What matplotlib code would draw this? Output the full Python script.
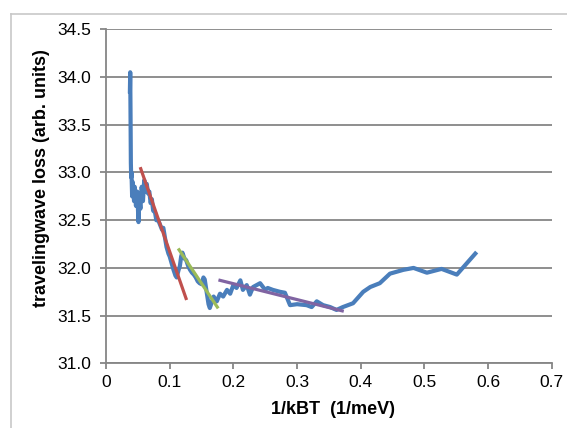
import numpy as np
import matplotlib as mpl
import matplotlib.pyplot as plt
from matplotlib.lines import Line2D

mpl.rcParams['font.family'] = ['Liberation Sans', 'DejaVu Sans']

# measured loss vs 1/kBT
inv_kbt = [0.0375, 0.038, 0.0385, 0.039, 0.0395, 0.040, 0.041, 0.042, 0.044, 0.045,
           0.047, 0.049, 0.051, 0.052, 0.054, 0.056, 0.058, 0.060, 0.062, 0.064,
           0.066, 0.068, 0.070, 0.072, 0.074, 0.077, 0.079, 0.082, 0.085, 0.088,
           0.090, 0.093, 0.095, 0.098, 0.100, 0.103, 0.106, 0.109, 0.111, 0.114,
           0.116, 0.118, 0.120, 0.123, 0.126, 0.129, 0.132, 0.135, 0.138, 0.141,
           0.144, 0.147, 0.150, 0.153, 0.155, 0.158, 0.161, 0.163, 0.169, 0.174,
           0.179, 0.184, 0.190, 0.195, 0.200, 0.205, 0.211, 0.215, 0.221, 0.226,
           0.231, 0.242, 0.250, 0.254, 0.262, 0.273, 0.281, 0.289, 0.300, 0.315,
           0.323, 0.331, 0.341, 0.352, 0.362, 0.372, 0.388, 0.404, 0.415, 0.430,
           0.446, 0.467, 0.483, 0.504, 0.527, 0.551, 0.580]
loss = [33.85, 34.05, 33.60, 33.10, 32.95, 33.00, 32.75, 32.90, 32.70, 32.85,
        32.65, 32.80, 32.48, 32.75, 32.62, 32.85, 32.70, 32.92, 32.80, 32.88,
        32.78, 32.80, 32.68, 32.72, 32.60, 32.58, 32.50, 32.50, 32.45, 32.40,
        32.42, 32.30, 32.22, 32.15, 32.12, 32.05, 31.98, 31.92, 31.90, 31.98,
        32.02, 32.12, 32.16, 32.10, 32.08, 32.02, 31.98, 31.95, 31.93, 31.90,
        31.86, 31.84, 31.83, 31.90, 31.88, 31.75, 31.62, 31.58, 31.70, 31.65,
        31.73, 31.70, 31.77, 31.73, 31.82, 31.79, 31.87, 31.77, 31.82, 31.72,
        31.80, 31.84, 31.77, 31.79, 31.77, 31.75, 31.74, 31.61, 31.62, 31.61,
        31.59, 31.65, 31.61, 31.59, 31.56, 31.59, 31.63, 31.75, 31.80, 31.84,
        31.94, 31.98, 32.00, 31.95, 31.99, 31.93, 32.15]

# linear fits over three ranges (end points)
fit_red_x = [0.0545, 0.1257]
fit_red_y = [33.04, 31.68]
fit_green_x = [0.1147, 0.1748]
fit_green_y = [32.19, 31.59]
fit_purple_x = [0.179, 0.371]
fit_purple_y = [31.87, 31.55]

fig = plt.figure(figsize=(5.67, 4.28), dpi=100)
ax = fig.add_axes([0.187, 0.151, 0.786, 0.7805])

grey = '#868686'
ax.plot(inv_kbt, loss, color='#4a7ebb', lw=3.0, solid_joinstyle='round', zorder=3)
ax.plot(fit_red_x, fit_red_y, color='#c0504d', lw=2.3, zorder=4)
ax.plot(fit_green_x, fit_green_y, color='#9bbb59', lw=2.3, zorder=4)
ax.plot(fit_purple_x, fit_purple_y, color='#8064a2', lw=2.3, zorder=4)

ax.set_xlim(0, 0.7)
ax.set_ylim(31.0, 34.5)
ax.set_xticks(np.arange(0, 0.71, 0.1))
ax.set_xticklabels(['0', '0.1', '0.2', '0.3', '0.4', '0.5', '0.6', '0.7'])
ax.set_yticks(np.arange(31.0, 34.51, 0.5))
ax.set_yticklabels(['%.1f' % v for v in np.arange(31.0, 34.51, 0.5)])

ax.grid(axis='y', color=grey, lw=1.3)
ax.set_axisbelow(True)
for s in ['top', 'right']:
    ax.spines[s].set_visible(False)
for s in ['left', 'bottom']:
    ax.spines[s].set_color(grey)
    ax.spines[s].set_linewidth(1.3)
ax.tick_params(colors=grey, labelcolor='black', labelsize=12.5, length=4.5, width=1.3)
ax.tick_params(axis='y', pad=6)
ax.tick_params(axis='x', pad=4)

ax.set_xlabel('1/kBT  (1/meV)', fontsize=13, fontweight='bold')
ax.set_ylabel('travelingwave loss (arb. units)', fontsize=13, fontweight='bold')
ax.xaxis.set_label_coords(0.509, -0.113)
ax.yaxis.set_label_coords(-0.125, 0.555)

# chart area border
fig.add_artist(Line2D([11 / 567, 11 / 567], [0, 1 - 14 / 428], color='#c8c8c8', lw=1.2))
fig.add_artist(Line2D([11 / 567, 1], [1 - 14 / 428, 1 - 14 / 428], color='#c8c8c8', lw=1.2))

fig.savefig('out.png', dpi=100)
